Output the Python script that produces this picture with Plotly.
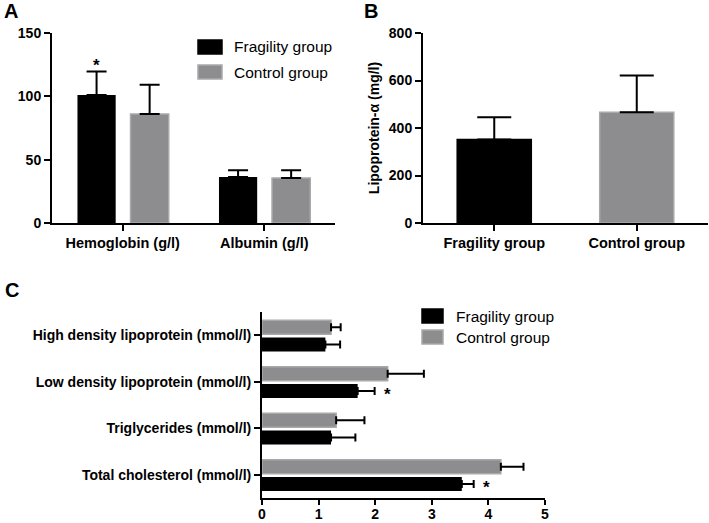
import plotly.graph_objects as go

# values
labels_a = ["Hemoglobin (g/l)", "Albumin (g/l)"]
frag_a = [101.1, 36.4]
frag_a_err = [18.5, 5.3]
ctrl_a = [86.1, 35.6]
ctrl_a_err = [23.0, 6.1]

groups_b = ["Fragility group", "Control group"]
lpa = [352, 466]
lpa_err = [93, 155]

labels_c = ["Total cholesterol (mmol/l)", "Triglycerides (mmol/l)",
            "Low density lipoprotein (mmol/l)", "High density lipoprotein (mmol/l)"]
frag_c = [3.53, 1.22, 1.69, 1.12]
frag_c_err = [0.21, 0.43, 0.30, 0.26]
ctrl_c = [4.22, 1.31, 2.22, 1.22]
ctrl_c_err = [0.40, 0.50, 0.64, 0.17]

W, H = 709, 523
BLACK = "#000000"
GREY = "#8d8d90"
GREY_EDGE = "#a9a9a9"
FONT = "Liberation Sans, Arial, sans-serif"


def px(x):
    return x / W


def py(y):
    return 1 - y / H


def err(vals, width):
    return dict(type="data", array=vals, arrayminus=[0] * len(vals), symmetric=False,
                color=BLACK, thickness=2, width=width)


fig = go.Figure()

# panel A
fig.add_trace(go.Bar(x=labels_a, y=frag_a, width=0.27, offset=-0.32,
                     marker=dict(color=BLACK, line=dict(width=0)),
                     error_y=err(frag_a_err, 10), xaxis="x", yaxis="y", showlegend=False))
fig.add_trace(go.Bar(x=labels_a, y=ctrl_a, width=0.27, offset=0.055,
                     marker=dict(color=GREY, line=dict(color=GREY_EDGE, width=1.5)),
                     error_y=err(ctrl_a_err, 10), xaxis="x", yaxis="y", showlegend=False))

# panel B
fig.add_trace(go.Bar(x=groups_b, y=lpa, width=0.52,
                     marker=dict(color=[BLACK, GREY], line=dict(color=[BLACK, GREY_EDGE], width=1.5)),
                     error_y=err(lpa_err, 17), xaxis="x2", yaxis="y2", showlegend=False))

# panel C
fig.add_trace(go.Bar(y=labels_c, x=frag_c, orientation="h", width=0.30, offset=-0.35,
                     marker=dict(color=BLACK, line=dict(width=0)),
                     error_x=err(frag_c_err, 4), xaxis="x3", yaxis="y3", showlegend=False))
fig.add_trace(go.Bar(y=labels_c, x=ctrl_c, orientation="h", width=0.30, offset=0.02,
                     marker=dict(color=GREY, line=dict(color=GREY_EDGE, width=1.5)),
                     error_x=err(ctrl_c_err, 4), xaxis="x3", yaxis="y3", showlegend=False))

axis_common = dict(showline=True, linewidth=2, linecolor=BLACK, showgrid=False, zeroline=False,
                   ticks="outside", ticklen=6, tickwidth=2, tickcolor=BLACK,
                   tickfont=dict(family=FONT, size=14, color=BLACK, weight="bold"))

fig.update_layout(
    width=W, height=H,
    margin=dict(l=0, r=0, t=0, b=0),
    template="none",
    paper_bgcolor="white", plot_bgcolor="white",
    barmode="overlay",
    font=dict(family=FONT, color=BLACK),
    xaxis=dict(axis_common, domain=[px(52), px(335)], range=[-0.5, 1.5], anchor="y",
               tickfont=dict(family=FONT, size=14.5, color=BLACK, weight="bold")),
    yaxis=dict(axis_common, domain=[py(223), py(33)], range=[0, 150], dtick=50, anchor="x"),
    xaxis2=dict(axis_common, domain=[px(423), px(708)], range=[-0.5, 1.5], anchor="y2",
                tickfont=dict(family=FONT, size=14.5, color=BLACK, weight="bold")),
    yaxis2=dict(axis_common, domain=[py(223), py(33)], range=[0, 800], dtick=200, anchor="x2",
                title=dict(text="Lipoprotein-α (mg/l)", standoff=6,
                           font=dict(family=FONT, size=14, color=BLACK, weight="bold"))),
    xaxis3=dict(axis_common, domain=[px(262), px(545)], range=[0, 5], dtick=1, anchor="y3",
                ticklen=5, ticklabelstandoff=-3),
    yaxis3=dict(axis_common, domain=[py(498), py(312)], range=[-0.5, 3.5], anchor="x3",
                tickfont=dict(family=FONT, size=14, color=BLACK, weight="bold")),
)

# legends drawn as swatches + labels
shapes = []
annotations = []
legend_items = [
    (198, 222, 40, 54, BLACK, BLACK, "Fragility group", 232),
    (198, 222, 65, 79, GREY, GREY_EDGE, "Control group", 232),
    (422, 443, 309, 323, BLACK, BLACK, "Fragility group", 454),
    (422, 443, 330, 344, GREY, GREY_EDGE, "Control group", 454),
]
for x0, x1, y0, y1, fill, edge, text, tx in legend_items:
    shapes.append(dict(type="rect", xref="paper", yref="paper",
                       x0=px(x0), x1=px(x1), y0=py(y1), y1=py(y0),
                       fillcolor=fill, line=dict(color=edge, width=1.5)))
    annotations.append(dict(xref="paper", yref="paper", x=px(tx), y=py((y0 + y1) / 2),
                            text=text, showarrow=False, xanchor="left", yanchor="middle",
                            font=dict(family=FONT, size=15.5, color=BLACK)))

# panel letters
for letter, x, y in [("A", 2, 11), ("B", 362, 11), ("C", 3, 290)]:
    annotations.append(dict(xref="paper", yref="paper", x=px(x), y=py(y), text=letter,
                            showarrow=False, xanchor="left", yanchor="middle",
                            font=dict(family=FONT, size=20, color=BLACK, weight="bold")))

# significance markers
annotations.append(dict(xref="x", yref="y", x=0 - 0.32 + 0.135, y=frag_a[0] + frag_a_err[0],
                        text="*", showarrow=False, yanchor="bottom", yshift=-5,
                        font=dict(family=FONT, size=17, color=BLACK, weight="bold")))
for i, xv in [(2, 2.22), (0, 3.96)]:
    annotations.append(dict(xref="x3", yref="y3", x=xv, y=i - 0.35 + 0.15,
                            text="*", showarrow=False, yanchor="middle", yshift=-3,
                            font=dict(family=FONT, size=17, color=BLACK, weight="bold")))

fig.update_layout(shapes=shapes, annotations=annotations)

# the page body has a default 8px margin; drop it so the figure fills the window
fig.write_html("out.html", config={"displayModeBar": False},
               post_script="document.body.style.margin='0';")
